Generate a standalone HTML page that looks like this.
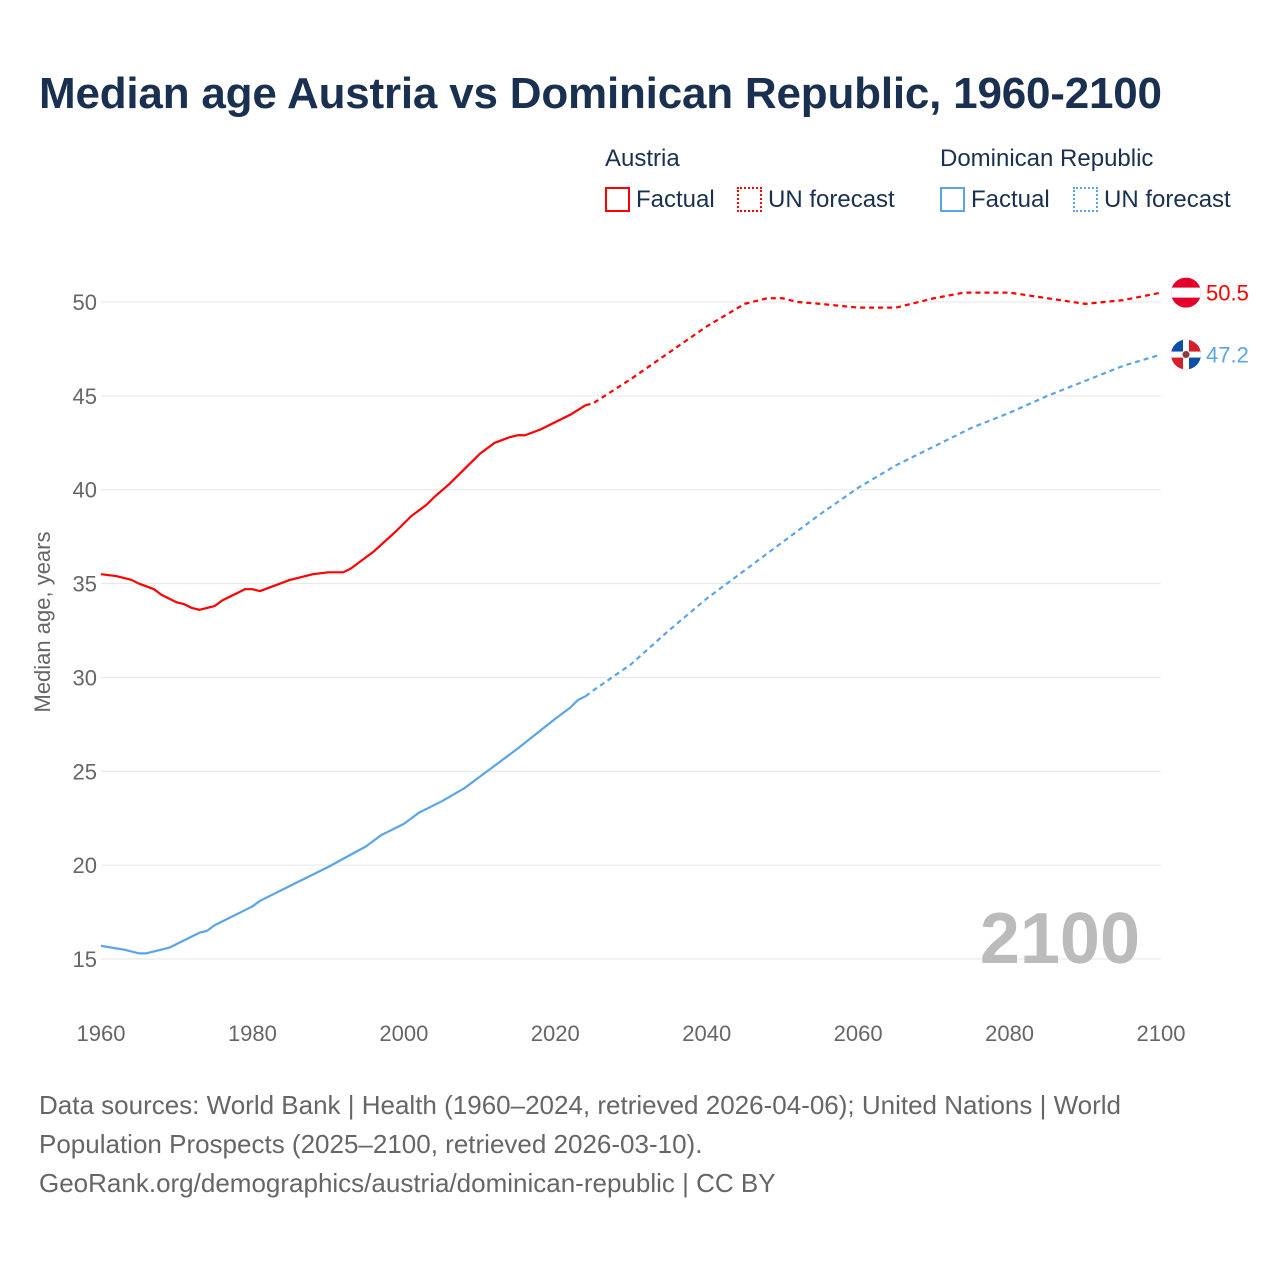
<!DOCTYPE html>
<html><head><meta charset="utf-8">
<style>
body{margin:0;background:#fff;font-family:"Liberation Sans",sans-serif;}
#wrap{position:relative;width:1280px;height:1280px;overflow:hidden;}
.t{position:absolute;white-space:nowrap;}
</style></head>
<body>
<div id="wrap">
<div class="t" style="left:39px;top:69px;font-size:44px;letter-spacing:-0.2px;font-weight:bold;color:#1a3050;">Median age Austria vs Dominican Republic, 1960-2100</div>
<div class="t" style="left:605px;top:145px;font-size:24px;color:#1a3050;">Austria</div>
<div class="t" style="left:940px;top:145px;font-size:24px;color:#1a3050;">Dominican Republic</div>
<div class="t" style="left:605px;top:186px;font-size:24px;color:#1a3050;"><span style="display:inline-block;width:25px;height:25px;border:2px solid #f00;vertical-align:-5px;margin-right:6px;box-sizing:border-box"></span>Factual</div>
<div class="t" style="left:737px;top:186px;font-size:24px;color:#1a3050;"><span style="display:inline-block;width:25px;height:25px;border:2px dotted #f00;vertical-align:-5px;margin-right:6px;box-sizing:border-box"></span>UN forecast</div>
<div class="t" style="left:940px;top:186px;font-size:24px;color:#1a3050;"><span style="display:inline-block;width:25px;height:25px;border:2px solid #5ba4e6;vertical-align:-5px;margin-right:6px;box-sizing:border-box"></span>Factual</div>
<div class="t" style="left:1073px;top:186px;font-size:24px;color:#1a3050;"><span style="display:inline-block;width:25px;height:25px;border:2px dotted #5ba4e6;vertical-align:-5px;margin-right:6px;box-sizing:border-box"></span>UN forecast</div>
<svg id="chart" width="1280" height="1280" style="position:absolute;left:0;top:0"></svg>
<div class="t" style="left:39px;top:1086px;font-size:26px;line-height:39px;color:#666;">Data sources: World Bank | Health (1960–2024, retrieved 2026-04-06); United Nations | World<br>Population Prospects (2025–2100, retrieved 2026-03-10).<br>GeoRank.org/demographics/austria/dominican-republic | CC BY</div>
</div>
<script>
const yTicks=[15,20,25,30,35,40,45,50];
const xTicks=[1960,1980,2000,2020,2040,2060,2080,2100];
const atYears=[1960,1962,1964,1965,1967,1968,1970,1971,1972,1973,1974,1975,1976,1978,1979,1980,1981,1983,1985,1988,1990,1992,1993,1996,1999,2001,2003,2004,2006,2008,2010,2012,2014,2015,2016,2018,2020,2022,2024];
const atVals=[35.5,35.4,35.2,35.0,34.7,34.4,34.0,33.9,33.7,33.6,33.7,33.8,34.1,34.5,34.7,34.7,34.6,34.9,35.2,35.5,35.6,35.6,35.8,36.7,37.8,38.6,39.2,39.6,40.3,41.1,41.9,42.5,42.8,42.9,42.9,43.2,43.6,44.0,44.5];
const afYears=[2024,2025,2030,2035,2040,2045,2048,2050,2052,2055,2060,2065,2070,2074,2080,2085,2090,2095,2100];
const afVals=[44.5,44.6,45.9,47.3,48.7,49.9,50.2,50.2,50.0,49.9,49.7,49.7,50.2,50.5,50.5,50.2,49.9,50.1,50.5];
const drYears=[1960,1963,1965,1966,1969,1973,1974,1975,1980,1981,1985,1990,1995,1997,2000,2002,2005,2008,2010,2015,2020,2022,2023,2024];
const drVals=[15.7,15.5,15.3,15.3,15.6,16.4,16.5,16.8,17.8,18.1,18.9,19.9,21.0,21.6,22.2,22.8,23.4,24.1,24.7,26.2,27.8,28.4,28.8,29.0];
const dfYears=[2024,2025,2030,2035,2040,2045,2050,2055,2060,2065,2070,2075,2080,2085,2090,2095,2100];
const dfVals=[29.0,29.3,30.7,32.5,34.2,35.7,37.2,38.7,40.1,41.3,42.3,43.3,44.1,45.0,45.8,46.6,47.2];
const svg=document.getElementById('chart');const NS='http://www.w3.org/2000/svg';
const x=v=>101+(v-1960)*(1060/140);const y=v=>959-(v-15)*(657/35);
function mk(t,a){const e=document.createElementNS(NS,t);for(const k in a)e.setAttribute(k,a[k]);svg.appendChild(e);return e;}
yTicks.forEach(v=>{const g=mk('line',{x1:101,x2:1161,y1:y(v),y2:y(v),stroke:'#e6e6e6','stroke-width':1});


const t=mk('text',{x:97,y:y(v)+8,'text-anchor':'end','font-size':22,fill:'#666','font-family':'Liberation Sans'});t.textContent=v;

});
xTicks.forEach(v=>{const t=mk('text',{x:x(v),y:1041,'text-anchor':'middle','font-size':22,fill:'#666','font-family':'Liberation Sans'});t.textContent=v;

});
const yt=mk('text',{x:0,y:0,transform:'translate(50,622) rotate(-90)','text-anchor':'middle','font-size':22,fill:'#666','font-family':'Liberation Sans'});yt.textContent='Median age, years';


const yr=mk('text',{x:1140,y:963,'text-anchor':'end','font-size':72,'font-weight':'bold',fill:'#bbb','font-family':'Liberation Sans'});yr.textContent='2100';


function line(xs,vs,col,dash,name){const p=mk('polyline',{points:xs.map((a,i)=>x(a)+','+y(vs[i])).join(' '),fill:'none',stroke:col,'stroke-width':2.2,'stroke-dasharray':dash||'none','stroke-linejoin':'round'});

}
line(atYears,atVals,'#f00','','austria-factual-line');
line(afYears,afVals,'#f00','5,4','austria-forecast-line');
line(drYears,drVals,'#5ba4e6','','dr-factual-line');
line(dfYears,dfVals,'#5ba4e6','5,4','dr-forecast-line');
const ay=y(afVals[afVals.length-1]),dy=y(dfVals[dfVals.length-1]),fx=1186;
const defs=mk('defs',{});defs.innerHTML='<clipPath id="ca"><circle cx="'+fx+'" cy="'+ay+'" r="15"/></clipPath><clipPath id="cd"><circle cx="'+fx+'" cy="'+dy+'" r="15"/></clipPath>';
const fa=mk('g',{'clip-path':'url(#ca)'});
fa.innerHTML='<rect x="'+(fx-15)+'" y="'+(ay-15)+'" width="30" height="30" fill="#e4002b"/><rect x="'+(fx-15)+'" y="'+(ay-5)+'" width="30" height="10" fill="#fff"/>';
const fd=mk('g',{'clip-path':'url(#cd)'});
fd.innerHTML='<rect x="'+(fx-15)+'" y="'+(dy-15)+'" width="15" height="15" fill="#0b4fa6"/><rect x="'+fx+'" y="'+(dy-15)+'" width="15" height="15" fill="#d5202c"/><rect x="'+(fx-15)+'" y="'+dy+'" width="15" height="15" fill="#d5202c"/><rect x="'+fx+'" y="'+dy+'" width="15" height="15" fill="#0b4fa6"/><rect x="'+(fx-3)+'" y="'+(dy-15)+'" width="6" height="30" fill="#fff"/><rect x="'+(fx-15)+'" y="'+(dy-3)+'" width="30" height="6" fill="#fff"/><circle cx="'+fx+'" cy="'+dy+'" r="3.5" fill="#8a3a3a"/>';
const la=mk('text',{x:1206,y:ay+8,'font-size':22,fill:'#f00','font-family':'Liberation Sans'});la.textContent=afVals[afVals.length-1].toFixed(1);


const ld=mk('text',{x:1206,y:dy+8,'font-size':22,fill:'#5ba4e6','font-family':'Liberation Sans'});ld.textContent=dfVals[dfVals.length-1].toFixed(1);


</script>
</body></html>
